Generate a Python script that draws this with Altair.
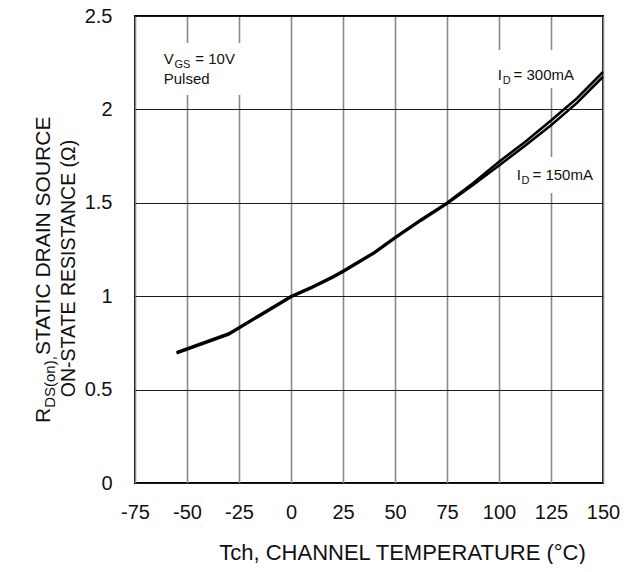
import altair as alt
import pandas as pd

# ---- data ----
temp = [-55, -30, -15, 0, 10, 20, 25, 40, 50, 62.5, 75, 87.5, 100, 112.5, 125, 137.5, 150]
r_300 = [0.70, 0.80, 0.90, 1.00, 1.05, 1.105, 1.135, 1.235, 1.315, 1.41, 1.50, 1.605, 1.72, 1.825, 1.94, 2.06, 2.20]
r_150 = [0.695, 0.795, 0.895, 0.995, 1.045, 1.10, 1.13, 1.23, 1.31, 1.405, 1.495, 1.595, 1.70, 1.805, 1.915, 2.035, 2.175]
series_names = ["ID = 300mA", "ID = 150mA"]

x_ticks = [-75, -50, -25, 0, 25, 50, 75, 100, 125, 150]
y_ticks = [0, 0.5, 1, 1.5, 2, 2.5]

# annotation pieces (main text + subscripts), in data units
ann_text = ["V", "GS", "= 10V", "Pulsed", "I", "D", "= 300mA", "I", "D", "= 150mA"]
ann_T = [-61.2, -56.0, -46.0, -61.2, 99.4, 101.8, 107.0, 108.5, 110.8, 116.1]
ann_R = [2.243, 2.222, 2.243, 2.136, 2.157, 2.136, 2.157, 1.622, 1.601, 1.622]
ann_size = [15, 11, 15, 15, 15, 11, 15, 15, 11, 15]

# white label boxes behind annotations (data units)
box_T = [-64.0, 96.4, 105.9]
box_T2 = [-22.3, 141.0, 147.6]
box_R = [2.077, 2.115, 1.552]
box_R2 = [2.355, 2.318, 1.745]

FONT = "Liberation Sans, Arial, sans-serif"
INK = "#111111"

n = len(temp)
df = pd.DataFrame({
    "T": temp + temp,
    "R": r_300 + r_150,
    "series": [series_names[0]] * n + [series_names[1]] * n,
})
ann = pd.DataFrame({"T": ann_T, "R": ann_R, "text": ann_text, "size": ann_size})
boxes = pd.DataFrame({"T": box_T, "T2": box_T2, "R": box_R, "R2": box_R2})

xs = alt.Scale(domain=[-75, 150], nice=False, zero=False)
ys = alt.Scale(domain=[0, 2.5], nice=False, zero=True)

xaxis = alt.Axis(
    values=x_ticks, labelExpr="'' + datum.value", grid=True,
    gridColor="#8a8a8a", gridWidth=1.6, domain=False, ticks=False,
    labelFont=FONT, labelFontSize=20, labelColor=INK, labelPadding=19,
    labelFlush=False,
    title="Tch, CHANNEL TEMPERATURE (°C)", titleFont=FONT, titleFontSize=22,
    titleFontWeight="normal", titleColor=INK, titleX=267, titleY=76,
    titleBaseline="alphabetic", titleAlign="center",
)
yaxis = alt.Axis(
    values=y_ticks, labelExpr="'' + datum.value", grid=True,
    gridColor="#1a1a1a", gridWidth=1.2, domain=False, ticks=False,
    labelFont=FONT, labelFontSize=20, labelColor=INK, labelPadding=23,
    labelFlush=False, title=None,
)

rects = alt.Chart(boxes).mark_rect(fill="white", stroke=None).encode(
    x=alt.X("T:Q", scale=xs, axis=xaxis),
    x2="T2:Q",
    y=alt.Y("R:Q", scale=ys, axis=yaxis),
    y2="R2:Q",
)

lines = alt.Chart(df).mark_line(color="black", strokeWidth=2.6).encode(
    x=alt.X("T:Q", scale=xs, axis=xaxis),
    y=alt.Y("R:Q", scale=ys, axis=yaxis),
    detail="series:N",
)

labels = alt.Chart(ann).mark_text(
    align="left", baseline="alphabetic", font=FONT, color=INK
).encode(
    x=alt.X("T:Q", scale=xs, axis=xaxis),
    y=alt.Y("R:Q", scale=ys, axis=yaxis),
    text="text:N",
    size=alt.Size("size:Q", scale=None, legend=None),
)

# rotated y-axis title, built from pieces so the subscript stays a subscript
ytitle_text = ["R", "DS(on),", " STATIC DRAIN SOURCE", "ON-STATE RESISTANCE (Ω)"]
ytitle_layers = []
specs = [
    (ytitle_text[0], -85, 407, 21, "left"),
    (ytitle_text[1], -80, 391.8, 15, "left"),
    (ytitle_text[2], -85, 339, 21, "left"),
    (ytitle_text[3], -60, 252.5, 19.5, "center"),
]
for txt, px, py, fs, al in specs:
    ytitle_layers.append(
        alt.Chart(pd.DataFrame({"t": [txt]})).mark_text(
            angle=270, align=al, baseline="alphabetic", font=FONT,
            fontSize=fs, color=INK,
        ).encode(x=alt.value(px), y=alt.value(py), text="t:N")
    )

chart = alt.layer(rects, lines, labels, *ytitle_layers).properties(
    width=468, height=467,
    autosize=alt.AutoSizeParams(type="none"),
    padding={"left": 127, "top": 8, "right": 17, "bottom": 81},
    background="white",
).configure_view(stroke="black", strokeWidth=2)

chart.save("out.html", embed_options={"renderer": "svg", "actions": False})
